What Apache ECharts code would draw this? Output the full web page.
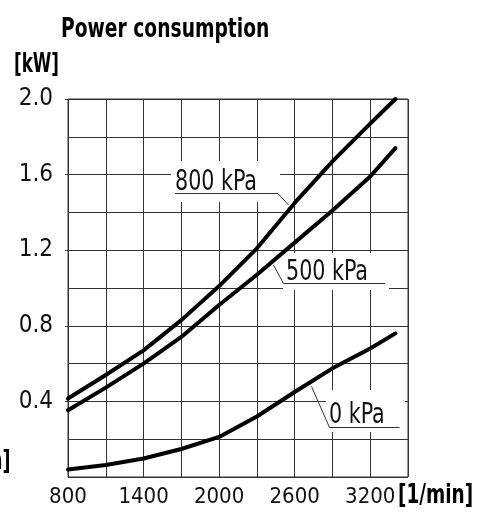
<!DOCTYPE html>
<html>
<head>
<meta charset="utf-8">
<script src="https://cdn.jsdelivr.net/npm/echarts@6/dist/echarts.min.js"></script>
<style>
html,body{margin:0;padding:0;background:#fff;}
#chart{width:480px;height:517px;}
</style>
</head>
<body>
<div id="chart"></div>
<script>
// ---- data ----
var rpm = [800, 1100, 1400, 1700, 2000, 2300, 2600, 2900, 3200, 3400];
var p800 = [0.415, 0.54, 0.67, 0.83, 1.01, 1.21, 1.45, 1.67, 1.87, 2.0];
var p500 = [0.353, 0.473, 0.60, 0.741, 0.91, 1.07, 1.24, 1.41, 1.59, 1.74];
var p0 = [0.04, 0.063, 0.098, 0.148, 0.212, 0.32, 0.45, 0.575, 0.68, 0.76];
var seriesNames = ['800 kPa', '500 kPa', '0 kPa'];
var xTickLabels = ['800', '1400', '2000', '2600', '3200'];
var yTickLabels = ['0.4', '0.8', '1.2', '1.6', '2.0'];
var titleText = 'Power consumption';
var yUnit = '[kW]';
var xUnit = '[1/min]';

function pairs(xs, ys) { return xs.map(function (x, i) { return [x, ys[i]]; }); }

var FONT = '"Liberation Sans Narrow", "DejaVu Sans Condensed", "Liberation Sans", sans-serif';
var GRIDC = '#333';

var chart = echarts.init(document.getElementById('chart'), null, {renderer: 'canvas'});

function lineSeries(name, ys) {
  return {
    name: name, type: 'line', xAxisIndex: 0, yAxisIndex: 0,
    data: pairs(rpm, ys), showSymbol: false, smooth: false,
    lineStyle: {color: '#000', width: 4, cap: 'round', join: 'round'},
    z: 5, silent: true, animation: false
  };
}

function annot(label, tx, ty, pts, mask) {
  return [
    {type: 'rect', shape: {x: mask[0], y: mask[1], width: mask[2], height: mask[3]},
     style: {fill: '#fff'}, z: 1, silent: true},
    {type: 'polyline', shape: {points: pts},
     style: {stroke: '#333', lineWidth: 1, fill: null}, z: 2, silent: true},
    {type: 'text', x: tx, y: ty, scaleX: 0.82, style: {text: label, font: '28px ' + FONT, fill: '#111',
     textAlign: 'left', textVerticalAlign: 'bottom'}, z: 3, silent: true}
  ];
}

var graphics = [
  {type: 'text', x: 61, y: 30, scaleX: 0.77, style: {text: titleText, font: 'bold 27px ' + FONT, fill: '#000',
    textAlign: 'left', textVerticalAlign: 'middle'}, z: 3},
  {type: 'text', x: 14, y: 65, scaleX: 0.69, style: {text: yUnit, font: 'bold 27px ' + FONT, fill: '#000',
    textAlign: 'left', textVerticalAlign: 'middle'}, z: 3},
  {type: 'text', x: 398, y: 496, scaleX: 0.76, style: {text: xUnit, font: 'bold 27px ' + FONT, fill: '#000',
    textAlign: 'left', textVerticalAlign: 'middle'}, z: 3},
  {type: 'text', x: -10, y: 462, scaleX: 0.72, style: {text: 'n]', font: 'bold 27px ' + FONT, fill: '#000',
    textAlign: 'left', textVerticalAlign: 'middle'}, z: 3}
];
graphics = graphics
  .concat(annot(seriesNames[0], 175, 197, [[175, 193.5], [278, 193.5], [288.5, 205]], [171, 161, 109, 41]))
  .concat(annot(seriesNames[1], 286, 287, [[273.5, 265], [283.5, 283.5], [385, 283.5]], [283, 253, 106, 37]))
  .concat(annot(seriesNames[2], 329, 430, [[311.5, 386.5], [329.5, 427.5], [399.5, 427.5]], [326, 390, 79, 42]));

var option = {
  animation: false,
  backgroundColor: '#fff',
  grid: {left: 68, top: 99, width: 340, height: 378, show: true, borderColor: GRIDC, borderWidth: 1,
         backgroundColor: 'transparent', containLabel: false},
  xAxis: [
    {type: 'value', min: 800, max: 3500, interval: 300,
     axisLine: {show: false}, axisTick: {show: false}, axisLabel: {show: false},
     splitLine: {show: true, lineStyle: {color: GRIDC, width: 1}}},
    {type: 'value', min: 800, max: 3500, interval: 600, position: 'bottom',
     axisLine: {show: false}, axisTick: {show: false}, splitLine: {show: false},
     axisLabel: {show: true, margin: 9, showMaxLabel: false, color: '#111',
       fontFamily: FONT, fontSize: 22,
       formatter: function (v) { var i = Math.round((v - 800) / 600); return (i >= 0 && i < xTickLabels.length) ? xTickLabels[i] : ''; }}}
  ],
  yAxis: [
    {type: 'value', min: 0, max: 2, interval: 0.2,
     axisLine: {show: false}, axisTick: {show: false}, axisLabel: {show: false},
     splitLine: {show: true, lineStyle: {color: GRIDC, width: 1}}},
    {type: 'value', min: 0, max: 2, interval: 0.4, position: 'left',
     axisLine: {show: false}, splitLine: {show: false},
     axisTick: {show: true, length: 3, lineStyle: {color: GRIDC, width: 1}},
     axisLabel: {show: true, margin: 15, showMinLabel: false, color: '#111',
       fontFamily: FONT, fontSize: 24, padding: [5, 0, 0, 0],
       formatter: function (v) { var i = Math.round(v / 0.4) - 1; return (i >= 0 && i < yTickLabels.length) ? yTickLabels[i] : ''; }}}
  ],
  series: [lineSeries(seriesNames[0], p800), lineSeries(seriesNames[1], p500), lineSeries(seriesNames[2], p0)],
  graphic: graphics
};
chart.setOption(option);
</script>
</body>
</html>
